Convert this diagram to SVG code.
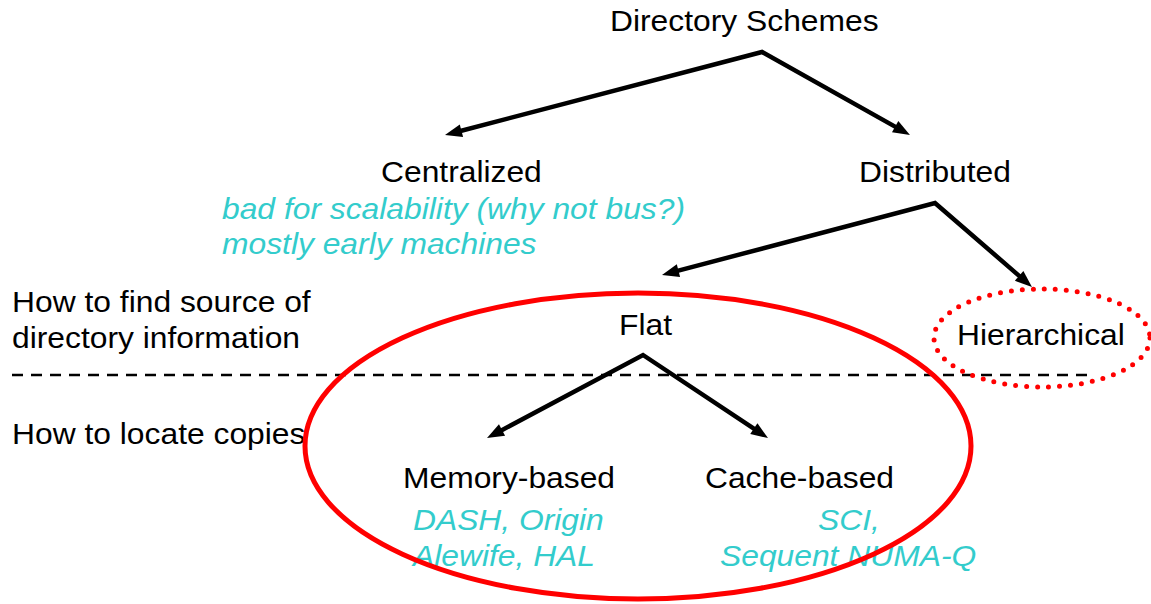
<svg xmlns="http://www.w3.org/2000/svg" width="1151" height="604" viewBox="0 0 1151 604">
  <defs>
    <marker id="head" markerUnits="userSpaceOnUse" markerWidth="20" markerHeight="16" refX="5" refY="8" orient="auto-start-reverse" overflow="visible">
      <path d="M0,1.5 L17,8 L0,14.5 z" fill="#000"/>
    </marker>
    <style>
      text { font-family: "Liberation Sans", Arial, sans-serif; font-size: 30px; }
      .lbl { fill: #000; }
      .note { fill: #33CCCC; font-style: italic; }
      .edge { fill: none; stroke: #000; stroke-width: 4.5; stroke-linejoin: miter; marker-start: url(#head); marker-end: url(#head); }
      .divider { stroke: #000; stroke-width: 2.5; stroke-dasharray: 11 8; }
      .ring { fill: none; stroke: #FF0000; stroke-width: 5; }
      .dots { fill: none; stroke: #FF0000; stroke-width: 5; stroke-linecap: round; stroke-dasharray: 0 11; }
    </style>
  </defs>

  <rect width="1151" height="604" fill="#fff"/>

  <!-- side captions for the two levels -->
  <g id="level-captions">
    <text class="lbl" x="12" y="312" textLength="298.7" lengthAdjust="spacingAndGlyphs">How to find source of</text>
    <text class="lbl" x="12" y="348" textLength="288" lengthAdjust="spacingAndGlyphs">directory information</text>
    <text class="lbl" x="12" y="444" textLength="293.4" lengthAdjust="spacingAndGlyphs">How to locate copies</text>
  </g>

  <line class="divider" x1="12" y1="375" x2="1095" y2="375"/>

  <g id="root">
    <text class="lbl" x="610" y="31" textLength="268.6" lengthAdjust="spacingAndGlyphs">Directory Schemes</text>
  </g>
  <g id="centralized">
    <text class="lbl" x="381" y="182" textLength="160.8" lengthAdjust="spacingAndGlyphs">Centralized</text>
    <text class="note" x="222" y="219" textLength="463" lengthAdjust="spacingAndGlyphs">bad for scalability (why not bus?)</text>
    <text class="note" x="222" y="254" textLength="314.5" lengthAdjust="spacingAndGlyphs">mostly early machines</text>
  </g>
  <g id="distributed">
    <text class="lbl" x="859" y="182" textLength="152" lengthAdjust="spacingAndGlyphs">Distributed</text>
  </g>
  <g id="flat">
    <text class="lbl" x="619" y="335" textLength="53" lengthAdjust="spacingAndGlyphs">Flat</text>
  </g>
  <g id="hierarchical">
    <text class="lbl" x="957" y="345" textLength="167.8" lengthAdjust="spacingAndGlyphs">Hierarchical</text>
  </g>
  <g id="memory-based">
    <text class="lbl" x="403" y="488" textLength="212" lengthAdjust="spacingAndGlyphs">Memory-based</text>
    <text class="note" x="413" y="530" textLength="190.8" lengthAdjust="spacingAndGlyphs">DASH, Origin</text>
    <text class="note" x="413" y="566" textLength="182" lengthAdjust="spacingAndGlyphs">Alewife, HAL</text>
  </g>
  <g id="cache-based">
    <text class="lbl" x="705" y="488" textLength="189" lengthAdjust="spacingAndGlyphs">Cache-based</text>
    <text class="note" x="818" y="530" textLength="61.9" lengthAdjust="spacingAndGlyphs">SCI,</text>
    <text class="note" x="720" y="566" textLength="256.2" lengthAdjust="spacingAndGlyphs">Sequent NUMA-Q</text>
  </g>

  <!-- tree connectors: each path forks from a parent to two children -->
  <g id="connectors">
    <path class="edge" d="M456.6,132 L762,52 L899.5,129.1"/>
    <path class="edge" d="M673.6,271.9 L935,203 L1022.9,279.1"/>
    <path class="edge" d="M497.6,432.4 L643,355 L758,431.4"/>
  </g>

  <!-- highlight rings -->
  <g id="flat-ring">
    <ellipse class="ring" cx="638" cy="446" rx="333" ry="153"/>
  </g>
  <g id="hierarchical-ring">
    <ellipse class="dots" cx="1042" cy="338" rx="108" ry="49"/>
  </g>
</svg>
